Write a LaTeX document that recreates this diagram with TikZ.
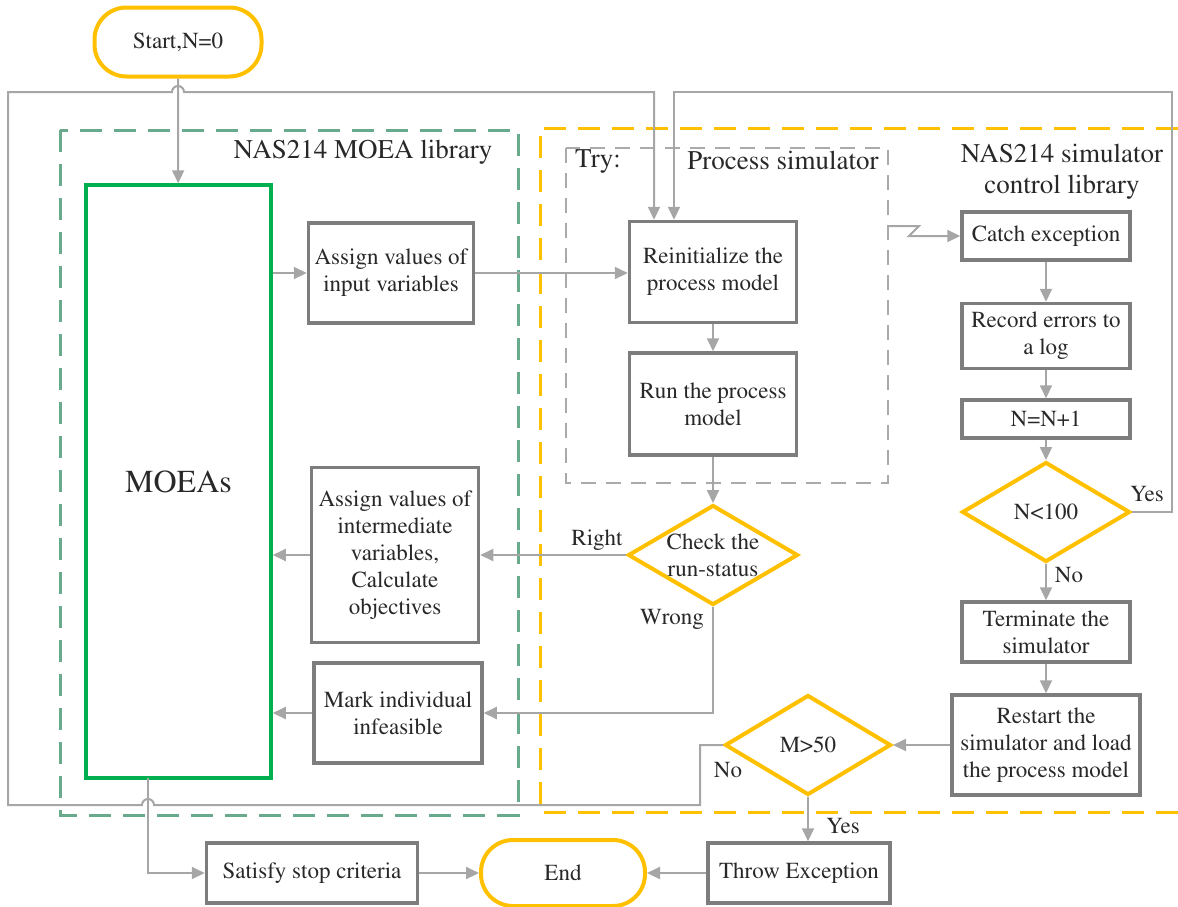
\documentclass[tikz,border=0pt]{standalone}
\usepackage[T1]{fontenc}
\usepackage{mathptmx}
\usetikzlibrary{arrows.meta,shapes.geometric}

\definecolor{linegray}{RGB}{166,166,166}
\definecolor{boxgray}{RGB}{125,125,125}
\definecolor{dashgray}{RGB}{170,170,170}
\definecolor{flowyellow}{RGB}{255,192,0}
\definecolor{moeagreen}{RGB}{0,176,80}
\definecolor{libgreen}{RGB}{106,170,140}
\definecolor{inkgray}{RGB}{40,40,40}

\begin{document}
\begin{tikzpicture}[x=1pt,y=-1pt]
  \tikzset{
    txt/.style = {font=\fontsize{23}{27}\selectfont, text=inkgray, align=center},
    proc/.style = {txt, draw=boxgray, line width=3.5pt, fill=white, inner sep=2pt},
    term/.style = {txt, draw=flowyellow, line width=4pt, fill=white, rounded corners=32pt},
    decision/.style = {diamond, draw=flowyellow, line width=4pt, fill=white, inner sep=0pt},
    flow/.style = {draw=linegray, line width=2pt, -{Triangle[length=13pt,width=12pt]}},
    grouplabel/.style = {font=\fontsize{27}{31}\selectfont, text=inkgray, align=center}
  }
  \useasboundingbox (0,0) rectangle (1178,906);

  % Groups
  \draw[libgreen, line width=3pt, dash pattern=on 22pt off 12pt] (60,130) rectangle (518,815);
  \draw[flowyellow, line width=3pt, dash pattern=on 22pt off 12pt] (1178,128) -- (540,128) -- (540,812) -- (1178,812);
  \draw[dashgray, line width=2pt, dash pattern=on 15pt off 10pt] (566,148) rectangle (888,483);
  \node[grouplabel] (moealib) at (363,152) {NAS214 MOEA library};
  \node[grouplabel] (try) at (598,162) {Try:};
  \node[grouplabel] (procsim) at (783,160) {Process simulator};
  \node[grouplabel] (simlib) at (1062,172) {NAS214 simulator\\control library};

  % Vertices
  \node[term, minimum width=167pt, minimum height=69pt] (start) at (178,42) {Start,N=0};
  \node[txt, draw=moeagreen, line width=3.5pt, fill=white, minimum width=185pt, minimum height=593pt,
        font=\fontsize{32}{36}\selectfont] (moea) at (178.5,481.5) {MOEAs};
  \node[proc, minimum width=165pt, minimum height=100pt] (assignin) at (391,273) {Assign values of\\input variables};
  \node[proc, minimum width=167pt, minimum height=175pt] (assignmid) at (395,555) {Assign values of\\intermediate\\variables,\\Calculate\\objectives};
  \node[proc, minimum width=168pt, minimum height=100pt] (mark) at (398,713) {Mark individual\\infeasible};
  \node[proc, minimum width=167pt, minimum height=101pt] (reinit) at (713,272) {Reinitialize the\\process model};
  \node[proc, minimum width=167pt, minimum height=102pt] (run) at (713,404) {Run the process\\model};
  \node[decision, minimum width=170pt, minimum height=100pt,
        label={[txt]center:Check the\\run-status}] (check) at (713,555) {};
  \node[proc, minimum width=168pt, minimum height=48pt] (catch) at (1046,236) {Catch exception};
  \node[proc, minimum width=168pt, minimum height=65pt] (record) at (1046,336) {Record errors to\\a log};
  \node[proc, minimum width=168pt, minimum height=38pt] (incr) at (1046,419) {N=N+1};
  \node[decision, minimum width=168pt, minimum height=100pt,
        label={[txt]center:N<100}] (ncheck) at (1046,512) {};
  \node[proc, minimum width=168pt, minimum height=60pt] (stopsim) at (1046,632) {Terminate the\\simulator};
  \node[proc, minimum width=188pt, minimum height=100pt] (restart) at (1046,745) {Restart the\\simulator and load\\the process model};
  \node[decision, minimum width=166pt, minimum height=100pt,
        label={[txt]center:M>50}] (mcheck) at (808,745) {};
  \node[proc, minimum width=182pt, minimum height=60pt] (throw) at (799,873) {Throw Exception};
  \node[term, minimum width=164pt, minimum height=66pt] (end) at (563,873) {End};
  \node[proc, minimum width=211pt, minimum height=60pt] (stopcrit) at (312,873) {Satisfy stop criteria};

  % Edge labels
  \node[txt] (right) at (597,540) {Right};
  \node[txt] (wrong) at (672,619) {Wrong};
  \node[txt] (nyes) at (1147,494) {Yes};
  \node[txt] (nno) at (1069,575) {No};
  \node[txt] (mno) at (728,770) {No};
  \node[txt] (myes) at (843,826) {Yes};

  % Loop corners
  \coordinate (retryA) at (654,92);
  \coordinate (retryB) at (674,92);
  \coordinate (moeaout) at (148,778);
  \coordinate (exc) at (888,226);

  % Edges
  \draw[flow] (start) -- (moea);
  \draw[flow] (assignin.west -| moea.east) -- (assignin.west);
  \draw[flow] (assignin.east) -- (assignin.east -| reinit.west);
  \draw[flow] (reinit) -- (run);
  \draw[flow] (run) -- (check);
  \draw[flow] (check.west) -- (assignmid.east);
  \draw[flow] (assignmid.west) -- (assignmid.west -| moea.east);
  \draw[flow] (check.south) |- (mark.east);
  \draw[flow] (mark.west) -- (mark.west -| moea.east);
  \draw[flow] (exc) -- ++(31,0) -- ++(-10,10) -- (catch.west);
  \draw[flow] (catch) -- (record);
  \draw[flow] (record) -- (incr);
  \draw[flow] (incr) -- (ncheck);
  \draw[flow] (ncheck) -- (stopsim);
  \draw[flow] (stopsim) -- (restart);
  \draw[flow] (restart.west) -- (mcheck.east);
  \draw[flow] (mcheck.south) -- (mcheck.south |- throw.north);
  \draw[flow] (throw) -- (end);
  \draw[flow] (stopcrit) -- (end);
  \draw[flow] (moeaout) |- (stopcrit.west);
  \draw[flow] (ncheck.east) -- (1172,512) -- (1172,92) -- (retryB) -- (retryB |- reinit.north);
  \draw[flow] (mcheck.west) -- (700,745) -- (700,805) -- (154,805) arc (0:180:6pt) -- (8,805)
    -- (8,92) -- (172,92) arc (180:0:6pt) -- (retryA) -- (retryA |- reinit.north);
\end{tikzpicture}
\end{document}
